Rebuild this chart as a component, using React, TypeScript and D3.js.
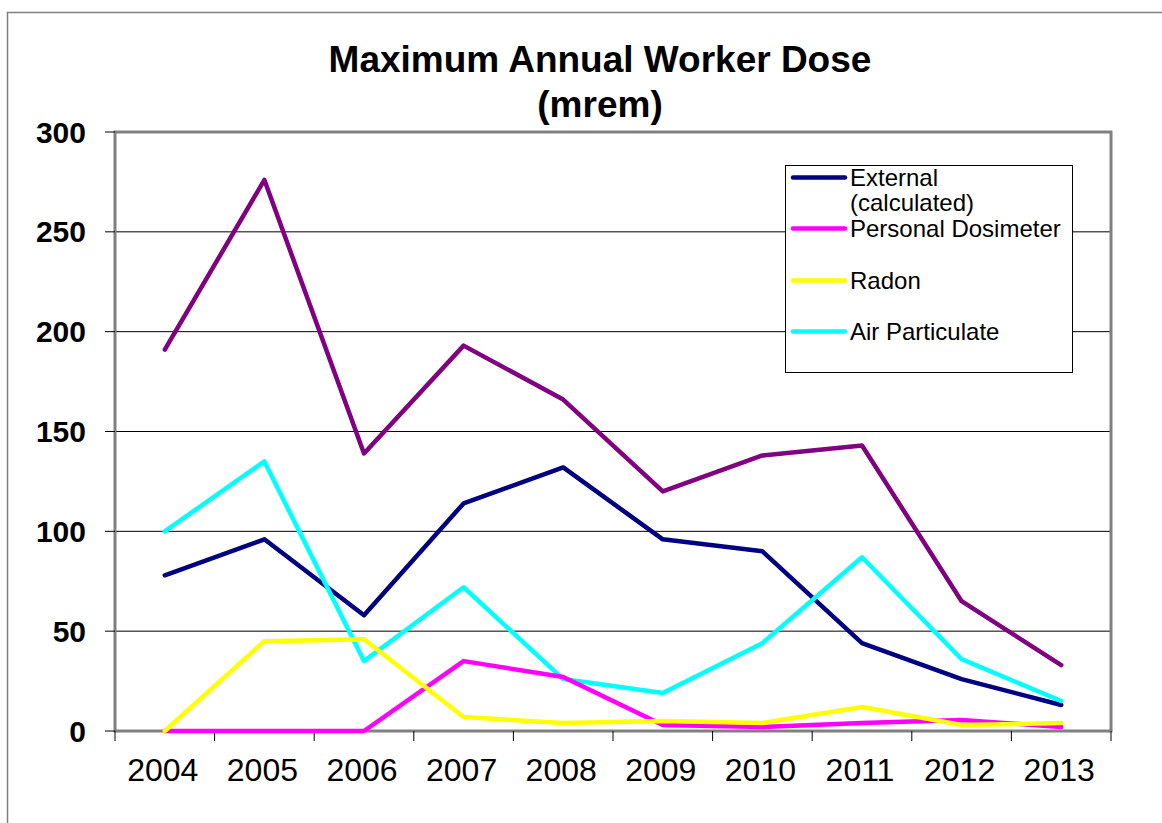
import React from "react";
import * as d3 from "d3";

const years = ["2004","2005","2006","2007","2008","2009","2010","2011","2012","2013"];
const total = [191, 276, 139, 193, 166, 120, 138, 143, 65, 33];
const external = [78, 96, 58, 114, 132, 96, 90, 44, 26, 13];
const personal = [0, 0, 0, 35, 27, 3, 2, 4, 5.5, 2];
const radon = [0, 45, 46, 7, 4, 5, 4, 12, 3, 4];
const air = [100, 135, 35, 72, 26, 19, 44, 87, 36, 15];
const yTicks = [0, 50, 100, 150, 200, 250, 300];

const series = [
  { name: "Total", values: total, color: "#800080" },
  { name: "External (calculated)", values: external, color: "#000080" },
  { name: "Air Particulate", values: air, color: "#00FFFF" },
  { name: "Personal Dosimeter", values: personal, color: "#FF00FF" },
  { name: "Radon", values: radon, color: "#FFFF00" },
];

const legendItems = [
  { lines: ["External", "(calculated)"], color: "#000080", y: 177.5 },
  { lines: ["Personal Dosimeter"], color: "#FF00FF", y: 228.5 },
  { lines: ["Radon"], color: "#FFFF00", y: 280.5 },
  { lines: ["Air Particulate"], color: "#00FFFF", y: 331.5 },
];

export default function App() {
  const left = 115, right = 1111, top = 132, bottom = 731;
  const x = d3.scaleBand<string>().domain(years).range([left, right]);
  const y = d3.scaleLinear().domain([0, 300]).range([bottom, top]);
  const line = d3.line<number>()
    .x((_, i) => (x(years[i]) as number) + x.bandwidth() / 2)
    .y((d) => y(d));
  const font = "'Liberation Sans', Arial, sans-serif";
  const boundaries = years.map((yr) => x(yr) as number).concat([right]);
  return (
    <svg width={1162} height={823} style={{ position: "absolute", left: 0, top: 0, background: "#fff" }} fontFamily={font}>
      <rect x={7.5} y={12.5} width={1170} height={830} fill="#fff" stroke="#808080" strokeWidth={1.5} />
      <text x={600} y={72} textAnchor="middle" fontSize={37} fontWeight="bold">Maximum Annual Worker Dose</text>
      <text x={600} y={117} textAnchor="middle" fontSize={37} fontWeight="bold">(mrem)</text>
      {yTicks.filter((t) => t > 0 && t < 300).map((t) => (
        <line key={t} x1={left} x2={right} y1={y(t)} y2={y(t)} stroke="#000" strokeWidth={1} />
      ))}
      <rect x={left} y={top} width={right - left} height={bottom - top} fill="none" stroke="#808080" strokeWidth={3} />
      {yTicks.map((t) => (
        <g key={t}>
          <line x1={105} x2={left} y1={y(t)} y2={y(t)} stroke="#000" strokeWidth={1} />
          <text x={86} y={y(t) + 10.5} textAnchor="end" fontSize={30} fontWeight="bold">{t}</text>
        </g>
      ))}
      {boundaries.map((b, i) => (
        <line key={i} x1={b} x2={b} y1={bottom} y2={bottom + 10} stroke="#000" strokeWidth={1} />
      ))}
      {years.map((yr) => (
        <text key={yr} x={(x(yr) as number) + x.bandwidth() / 2 - 2} y={781} textAnchor="middle" fontSize={32}>{yr}</text>
      ))}
      {series.map((s) => (
        <path key={s.name} d={line(s.values) as string} fill="none" stroke={s.color} strokeWidth={4.5} strokeLinejoin="round" strokeLinecap="round" />
      ))}
      <rect x={785.5} y={165.5} width={287} height={207} fill="#fff" stroke="#000" strokeWidth={1} />
      {legendItems.map((it) => (
        <g key={it.lines[0]}>
          <line x1={793} x2={845} y1={it.y} y2={it.y} stroke={it.color} strokeWidth={4.5} strokeLinecap="round" />
          {it.lines.map((l, j) => (
            <text key={j} x={850} y={it.y + 8 + j * 25} fontSize={24}>{l}</text>
          ))}
        </g>
      ))}
    </svg>
  );
}
